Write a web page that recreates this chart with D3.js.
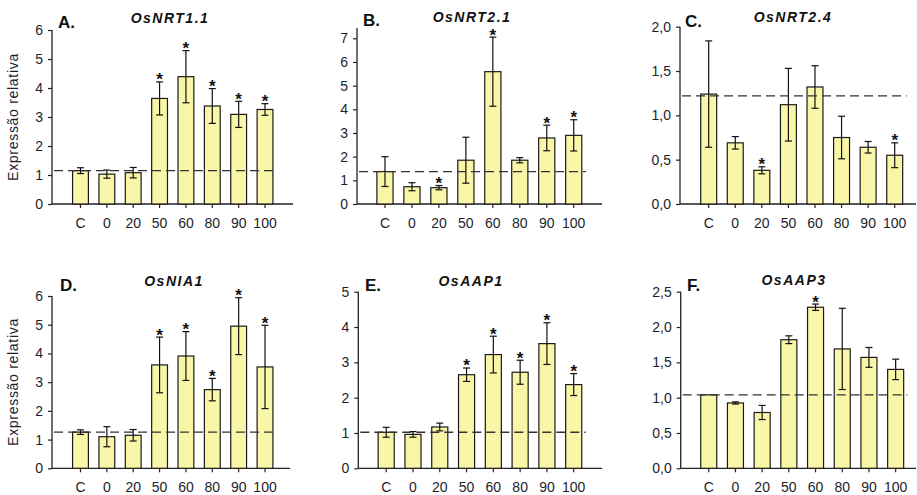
<!DOCTYPE html>
<html>
<head>
<meta charset="utf-8">
<script src="https://cdn.jsdelivr.net/npm/d3@7"></script>
<style>
  html, body { margin: 0; padding: 0; background: #fff; }
  svg { display: block; font-family: Arial, "Liberation Sans", sans-serif; }
</style>
</head>
<body>
<svg id="chart" width="917" height="495"></svg>
<script>
// ---------- DATA ----------
const categories = ["C", "0", "20", "50", "60", "80", "90", "100"];
const panelLetters = ["A.", "B.", "C.", "D.", "E.", "F."];
const geneNames = ["OsNRT1.1", "OsNRT2.1", "OsNRT2.4", "OsNIA1", "OsAAP1", "OsAAP3"];
const yMaxes = [6, 7, 2, 6, 5, 2.5];
const yTickSteps = [1, 1, 0.5, 1, 1, 0.5];
const yTickDecimals = [0, 0, 1, 0, 0, 1];
const controlLevels = [1.15, 1.37, 1.22, 1.26, 1.02, 1.04];

const meanNRT11 = [1.15, 1.03, 1.08, 3.64, 4.39, 3.38, 3.09, 3.26];
const errNRT11  = [0.10, 0.14, 0.18, 0.57, 0.90, 0.60, 0.45, 0.20];
const sigNRT11  = [0, 0, 0, 1, 1, 1, 1, 1];

const meanNRT21 = [1.37, 0.73, 0.69, 1.85, 5.59, 1.85, 2.79, 2.90];
const errNRT21  = [0.63, 0.17, 0.09, 0.97, 1.46, 0.11, 0.54, 0.66];
const sigNRT21  = [0, 0, 1, 0, 1, 0, 1, 1];

const meanNRT24 = [1.24, 0.69, 0.38, 1.12, 1.32, 0.75, 0.64, 0.55];
const errNRT24  = [0.60, 0.07, 0.04, 0.41, 0.24, 0.24, 0.065, 0.14];
const sigNRT24  = [0, 0, 1, 0, 0, 0, 0, 1];

const meanNIA1 = [1.26, 1.10, 1.15, 3.60, 3.91, 2.74, 4.95, 3.53];
const errNIA1  = [0.08, 0.35, 0.20, 0.97, 0.85, 0.39, 0.99, 1.45];
const sigNIA1  = [0, 0, 0, 1, 1, 1, 1, 1];

const meanAAP1 = [1.02, 0.96, 1.17, 2.65, 3.22, 2.72, 3.53, 2.37];
const errAAP1  = [0.14, 0.08, 0.11, 0.19, 0.52, 0.34, 0.59, 0.31];
const sigAAP1  = [0, 0, 0, 1, 1, 1, 1, 1];

const meanAAP3 = [1.04, 0.925, 0.79, 1.82, 2.28, 1.69, 1.57, 1.40];
const errAAP3  = [0.0, 0.015, 0.10, 0.055, 0.045, 0.575, 0.14, 0.145];
const sigAAP3  = [0, 0, 0, 0, 1, 0, 0, 0];

const panelMeans = [meanNRT11, meanNRT21, meanNRT24, meanNIA1, meanAAP1, meanAAP3];
const panelErrs  = [errNRT11, errNRT21, errNRT24, errNIA1, errAAP1, errAAP3];
const panelSigs  = [sigNRT11, sigNRT21, sigNRT24, sigNIA1, sigAAP1, sigAAP3];
const yAxisLabel = "Expressão relativa";

// ---------- LAYOUT ----------
const layout = [
  {axisX: 52,    y0: 204,   yTop: 30,    axisTop: 30,   xr: [67.3, 278.2], axisEnd: 293,
   letter: [58, 28],   gene: [170, 23], ylab: true},
  {axisX: 357,   y0: 204,   yTop: 38.3,  axisTop: 28,   xr: [371.5, 587.2], axisEnd: 602,
   letter: [363, 26],  gene: [472, 21.5], ylab: false},
  {axisX: 680,   y0: 204,   yTop: 26.7,  axisTop: 26.7, xr: [695.4, 908], axisEnd: 916,
   letter: [685, 27],  gene: [793, 22], ylab: false},
  {axisX: 52,    y0: 468.3, yTop: 296,   axisTop: 296,  xr: [67.3, 278.2], axisEnd: 290,
   letter: [60, 291],  gene: [174, 286], ylab: true},
  {axisX: 358.3, y0: 468.3, yTop: 291.7, axisTop: 291.7, xr: [372.8, 587.1], axisEnd: 602,
   letter: [365, 291], gene: [471, 286], ylab: false},
  {axisX: 680.7, y0: 468.3, yTop: 291.7, axisTop: 291.7, xr: [695.4, 909], axisEnd: 916,
   letter: [687, 291], gene: [794, 285], ylab: false}
];

const svg = d3.select("#chart");
const textColor = "#1e1e2a";
const barFill = "#faf6a8";

layout.forEach((L, i) => {
  const g = svg.append("g");
  const x = d3.scaleBand().domain(categories).range(L.xr).paddingInner(0.4).paddingOuter(0.2);
  const y = d3.scaleLinear().domain([0, yMaxes[i]]).range([L.y0, L.yTop]);
  const means = panelMeans[i], errs = panelErrs[i], sigs = panelSigs[i];
  const bw = x.bandwidth();

  // y axis
  const ticks = d3.range(0, yMaxes[i] + 1e-9, yTickSteps[i]);
  const fmt = v => d3.format("." + yTickDecimals[i] + "f")(v).replace(".", ",");
  const yAxis = d3.axisLeft(y).tickValues(ticks).tickFormat(fmt).tickSize(4).tickPadding(5);
  const ya = g.append("g").attr("transform", `translate(${L.axisX},0)`).call(yAxis);
  ya.select(".domain").remove();
  ya.selectAll(".tick line").attr("stroke", "#222").attr("stroke-width", 1.2);
  ya.selectAll(".tick text").attr("font-size", 14).attr("fill", textColor)
    .attr("font-family", "Arial, 'Liberation Sans', sans-serif");
  g.append("line").attr("x1", L.axisX).attr("x2", L.axisX)
    .attr("y1", L.axisTop).attr("y2", L.y0).attr("stroke", "#222").attr("stroke-width", 1.3);

  // x axis
  const xAxis = d3.axisBottom(x).tickSize(4).tickPadding(10);
  const xa = g.append("g").attr("transform", `translate(0,${L.y0})`).call(xAxis);
  xa.select(".domain").remove();
  xa.selectAll(".tick line").attr("stroke", "#222").attr("stroke-width", 1.2);
  xa.selectAll(".tick text").attr("font-size", 14).attr("fill", textColor)
    .attr("font-family", "Arial, 'Liberation Sans', sans-serif");
  g.append("line").attr("x1", L.axisX).attr("x2", L.axisEnd)
    .attr("y1", L.y0).attr("y2", L.y0).attr("stroke", "#222").attr("stroke-width", 1.3);

  // bars
  g.selectAll("rect.bar").data(categories).enter().append("rect")
    .attr("class", "bar")
    .attr("x", c => x(c))
    .attr("y", (c, k) => y(means[k]))
    .attr("width", bw)
    .attr("height", (c, k) => L.y0 - y(means[k]))
    .attr("fill", barFill).attr("stroke", "#1a1a1a").attr("stroke-width", 1.2);

  // error bars
  categories.forEach((c, k) => {
    if (errs[k] <= 0) return;
    const cx = x(c) + bw / 2;
    const top = y(means[k] + errs[k]), bot = y(means[k] - errs[k]);
    g.append("line").attr("x1", cx).attr("x2", cx).attr("y1", top).attr("y2", bot)
      .attr("stroke", "#111").attr("stroke-width", 1.2);
    [top, bot].forEach(yy => g.append("line").attr("x1", cx - 3.5).attr("x2", cx + 3.5)
      .attr("y1", yy).attr("y2", yy).attr("stroke", "#111").attr("stroke-width", 1.2));
    if (sigs[k]) {
      g.append("text").attr("x", cx).attr("y", top + 3.5).attr("text-anchor", "middle")
        .attr("font-size", 17).attr("font-weight", "bold").attr("fill", "#111").text("*");
    }
  });

  // control dashed line
  const lastRight = x(categories[categories.length - 1]) + bw;
  g.append("line").attr("x1", L.axisX + 2).attr("x2", lastRight + 4)
    .attr("y1", y(controlLevels[i])).attr("y2", y(controlLevels[i]))
    .attr("stroke", "#333").attr("stroke-width", 1.3).attr("stroke-dasharray", "9,5");

  // titles
  g.append("text").attr("x", L.letter[0]).attr("y", L.letter[1])
    .attr("font-size", 17).attr("font-weight", "bold").attr("fill", "#111").text(panelLetters[i]);
  g.append("text").attr("x", L.gene[0]).attr("y", L.gene[1]).attr("text-anchor", "middle")
    .attr("font-size", 14).attr("font-weight", "bold").attr("font-style", "italic")
    .attr("letter-spacing", "1.5px").attr("fill", "#111").text(geneNames[i]);

  if (L.ylab) {
    g.append("text").attr("transform", `translate(17.5,${i === 0 ? 117 : 382}) rotate(-90)`)
      .attr("text-anchor", "middle").attr("font-size", 14).attr("letter-spacing", "0.7px")
      .attr("fill", textColor).text(yAxisLabel);
  }
});
</script>
</body>
</html>
